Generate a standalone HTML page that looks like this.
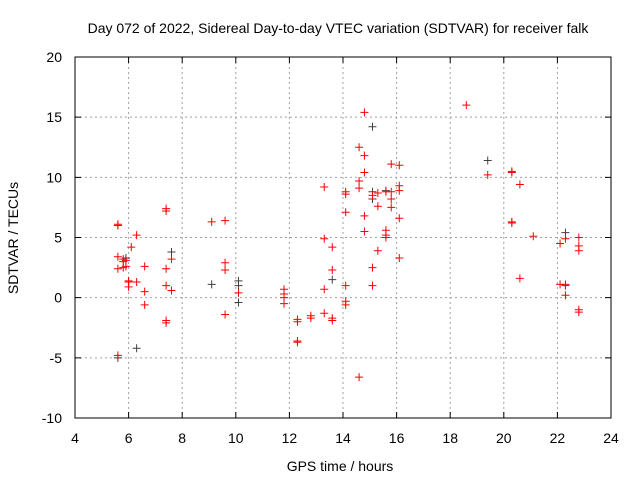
<!DOCTYPE html>
<html><head><meta charset="utf-8"><style>
html,body{margin:0;padding:0;background:#fff;}
svg{display:block;font-family:"Liberation Sans",sans-serif;}
</style></head><body>
<svg id="chart" width="640" height="480" viewBox="0 0 640 480">
<rect width="640" height="480" fill="#fff"/>
<text x="338" y="33" font-size="14" text-anchor="middle">Day 072 of 2022, Sidereal Day-to-day VTEC variation (SDTVAR) for receiver falk</text>
<text transform="translate(18,238) rotate(-90)" font-size="14" text-anchor="middle">SDTVAR / TECUs</text>
<text x="340" y="471" font-size="14" text-anchor="middle">GPS time / hours</text>
<g id="grid"></g><g id="ticks"></g><g id="black"></g><g id="red"></g>
<rect x="75" y="57" width="536" height="361" fill="none" stroke="#000" stroke-width="1"/>
</svg>
<script>
const xTicks=[4,6,8,10,12,14,16,18,20,22,24];
const yTicks=[-10,-5,0,5,10,15,20];
const redX=[5.6,5.6,5.6,5.6,5.6,5.8,5.8,5.8,5.9,5.9,6.1,6.0,6.0,6.0,6.3,6.3,6.6,6.6,6.6,7.4,7.4,7.4,7.4,7.4,7.4,7.6,7.6,9.1,9.6,9.6,9.6,9.6,10.1,11.8,11.8,11.8,11.8,12.3,12.3,12.3,12.3,12.8,12.8,13.3,13.3,13.3,13.3,13.6,13.6,13.6,13.6,14.1,14.1,14.1,14.1,14.1,14.1,14.6,14.6,14.6,14.6,14.8,14.8,14.8,14.8,14.8,15.1,15.1,15.1,15.3,15.3,15.3,15.6,15.6,15.6,15.6,15.8,15.8,15.8,15.8,16.1,16.1,16.1,16.1,16.1,18.6,19.4,20.3,20.3,20.3,20.3,20.6,20.6,21.1,22.1,22.1,22.3,22.3,22.3,22.8,22.8,22.8,22.8,22.8];
const redY=[6.1,6.0,3.4,2.4,-4.8,3.2,3.0,2.5,2.6,3.1,4.2,1.3,0.9,1.4,5.2,1.3,2.6,0.5,-0.6,7.4,7.2,2.4,1.0,-1.9,-2.1,3.2,0.6,6.3,6.4,2.9,2.3,-1.4,0.4,0.7,0.3,0.0,-0.5,-1.8,-2.0,-3.6,-3.7,-1.5,-1.7,9.2,4.9,0.7,-1.3,4.2,2.3,-1.7,-1.9,8.8,8.6,7.1,1.0,-0.3,-0.6,12.5,9.7,9.1,-6.6,15.4,11.8,10.4,6.8,5.5,8.5,2.5,1.0,8.7,7.6,3.9,8.8,5.6,5.2,5.0,11.1,8.8,8.2,7.5,11.0,9.3,8.9,6.6,3.3,16.0,10.2,10.5,10.4,6.3,6.2,9.4,1.6,5.1,4.5,1.1,4.9,1.1,0.2,5.0,4.3,3.9,-1.0,-1.2];
const blackX=[5.6,6.3,7.6,9.1,10.1,10.1,10.1,13.6,15.1,15.1,15.1,19.4,22.3,22.3,15.6,5.9];
const blackY=[-5.0,-4.2,3.8,1.1,1.4,1.0,-0.4,1.5,14.2,8.2,8.8,11.4,5.4,1.0,8.9,3.3];
const L=75,R=611,T=57,B=418;
const sx=v=>L+(v-4)/20*(R-L);
const sy=v=>B-(v+10)/30*(B-T);
const NS='http://www.w3.org/2000/svg';
function mk(tag,attrs,parent){const e=document.createElementNS(NS,tag);for(const k in attrs)e.setAttribute(k,attrs[k]);parent.appendChild(e);return e;}
const grid=document.getElementById('grid'),ticks=document.getElementById('ticks');
xTicks.forEach(t=>{const x=sx(t);
 if(t>4&&t<24){const g=mk('line',{x1:x,x2:x,y1:T,y2:B,stroke:'#a0a0a0','stroke-dasharray':'2,3'},grid);
 
 }
 const a=mk('path',{d:`M${x},${B}v-6M${x},${T}v6`,stroke:'#000'},ticks);
 
 
 const l=mk('text',{x:x,y:443,'font-size':14,'text-anchor':'middle'},ticks);l.textContent=t;
 
 
});
yTicks.forEach(t=>{const y=sy(t);
 if(t>-10&&t<20){const g=mk('line',{x1:L,x2:R,y1:y,y2:y,stroke:'#a0a0a0','stroke-dasharray':'2,3'},grid);
 
 }
 const a=mk('path',{d:`M${L},${y}h6M${R},${y}h-6`,stroke:'#000'},ticks);
 
 
 const l=mk('text',{x:62,y:y+5,'font-size':14,'text-anchor':'end'},ticks);l.textContent=t;
 
 
});
function plot(xs,ys,col,gid,name){const g=document.getElementById(gid);
 xs.forEach((v,i)=>{const x=sx(v),y=sy(ys[i]);
  const p=mk('path',{d:`M${x-4},${y}h8M${x},${y-4}v8`,stroke:col,'stroke-width':1},g);
  
  
 });}
plot(blackX,blackY,'#404040','black','black-point');
plot(redX,redY,'#ff0000','red','red-point');
</script>
</body></html>
